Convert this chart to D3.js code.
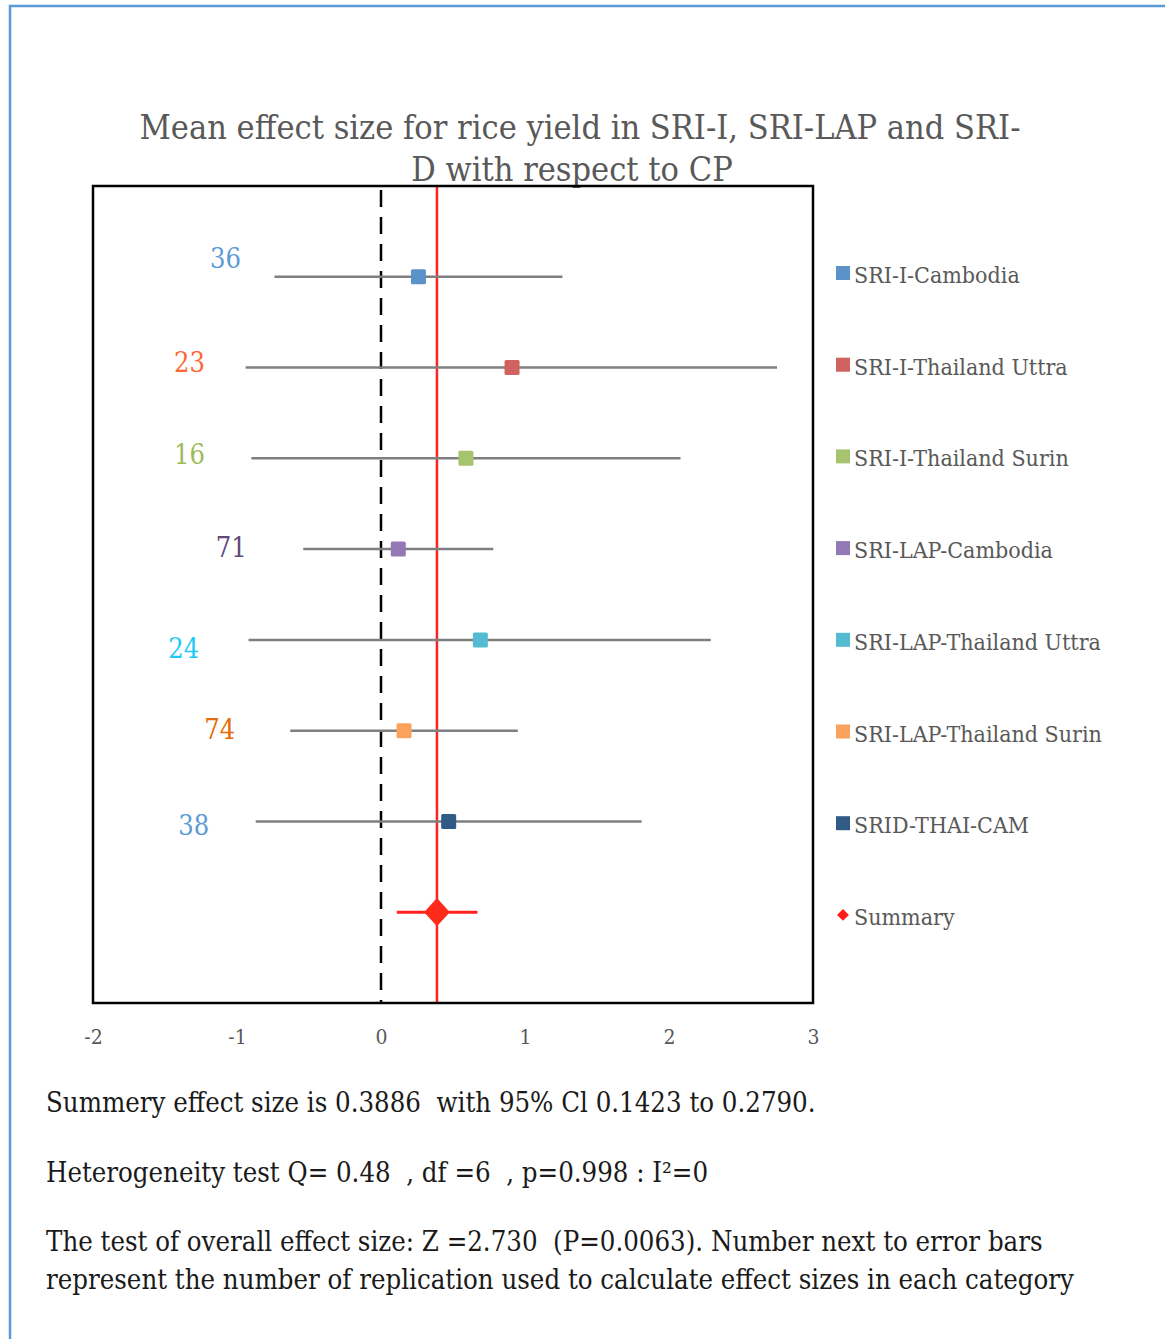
<!DOCTYPE html>
<html>
<head>
<meta charset="utf-8">
<script src="https://cdn.jsdelivr.net/npm/d3@7"></script>
<style>
  html, body { margin:0; padding:0; background:#fff; }
  svg { display:block; }
  text { font-family:"DejaVu Serif", serif; font-stretch:condensed; white-space:pre; }
</style>
</head>
<body>
<div id="chart"></div>
<script>
/* Forest plot: mean effect size for rice yield, SRI-I / SRI-LAP / SRI-D vs CP. */

// ---- data ----
const STUDIES = ["SRI-I-Cambodia","SRI-I-Thailand Uttra","SRI-I-Thailand Surin","SRI-LAP-Cambodia",
                 "SRI-LAP-Thailand Uttra","SRI-LAP-Thailand Surin","SRID-THAI-CAM"];
const EFFECT  = [0.26, 0.91, 0.59, 0.12, 0.69, 0.16, 0.47];
const CI_LOW  = [-0.74, -0.94, -0.90, -0.54, -0.92, -0.63, -0.87];
const CI_HIGH = [1.26, 2.75, 2.08, 0.78, 2.29, 0.95, 1.81];
const REPS    = [36, 23, 16, 71, 24, 74, 38];
const ROW_Y   = [8, 7, 6, 5, 4, 3, 2];
// where the replication counts sit, in data units
const REPS_X  = [-1.08, -1.33, -1.33, -1.04, -1.37, -1.12, -1.30];
const REPS_Y  = [8.2, 7.06, 6.04, 5.02, 3.9, 3.01, 1.95];

const SUMMARY = { est:0.3886, lo:0.11, hi:0.67, row:1 };

const MARKER_COLORS = ["#5b93c8","#d0625f","#a6c46e","#9279b3","#55bbd0","#f9a25c","#2f5b86"];
const REPS_COLORS   = ["#5b9bd5","#ff6633","#9bbb59","#604a7b","#1ec8f5","#e46c0a","#5b9bd5"];

const X_TICKS = [-2, -1, 0, 1, 2, 3];

const TITLE = ["Mean effect size for rice yield in SRI-I, SRI-LAP and SRI-", "D with respect to CP"];
const NOTES = [
  "Summery effect size is 0.3886  with 95% Cl 0.1423 to 0.2790.",
  "Heterogeneity test Q= 0.48  , df =6  , p=0.998 : I\u00b2=0",
  "The test of overall effect size: Z =2.730  (P=0.0063). Number next to error bars",
  "represent the number of replication used to calculate effect sizes in each category"
];

// ---- layout ----
const W = 1165, H = 1339;
const PLOT = { left:93, right:813, top:186, bottom:1003 };

const x = d3.scaleLinear().domain([-2, 3]).range([PLOT.left, PLOT.right]);
const y = d3.scaleLinear().domain([0, 9]).range([PLOT.bottom, PLOT.top]);

const svg = d3.select("#chart").append("svg").attr("width", W).attr("height", H);

// page border (blue, left + top)
svg.append("path").attr("d", `M10,${H} L10,6 L${W},6`)
  .attr("fill","none").attr("stroke","#5b9bd5").attr("stroke-width",2.5);

// title
svg.append("g").selectAll("text").data(TITLE).join("text")
  .attr("x", (d,i) => i ? 572 : 580).attr("y", (d,i) => 139 + i*42)
  .attr("text-anchor","middle").attr("fill","#595959").attr("font-size",34)
  .text(d => d);

// zero line (dashed) and summary line (red)
svg.append("line")
  .attr("x1", x(0)).attr("x2", x(0)).attr("y1", PLOT.top + 4).attr("y2", PLOT.bottom)
  .attr("stroke","#000").attr("stroke-width",2.5).attr("stroke-dasharray","17,10");
svg.append("line")
  .attr("x1", x(SUMMARY.est)).attr("x2", x(SUMMARY.est)).attr("y1", PLOT.top).attr("y2", PLOT.bottom)
  .attr("stroke","#ff2222").attr("stroke-width",2.5);

// study error bars + markers
const rows = svg.append("g").selectAll("g").data(STUDIES).join("g");
rows.append("line")
  .attr("x1", (d,i) => x(CI_LOW[i])).attr("x2", (d,i) => x(CI_HIGH[i]))
  .attr("y1", (d,i) => y(ROW_Y[i])).attr("y2", (d,i) => y(ROW_Y[i]))
  .attr("stroke","#7f7f7f").attr("stroke-width",2.5);
rows.append("rect")
  .attr("x", (d,i) => x(EFFECT[i]) - 7.5).attr("y", (d,i) => y(ROW_Y[i]) - 7.5)
  .attr("width",15).attr("height",15).attr("rx",1.5)
  .attr("fill", (d,i) => MARKER_COLORS[i]);
rows.append("text")
  .attr("x", (d,i) => x(REPS_X[i])).attr("y", (d,i) => y(REPS_Y[i]))
  .attr("text-anchor","middle").attr("dominant-baseline","central")
  .attr("font-size",27).attr("fill", (d,i) => REPS_COLORS[i])
  .text((d,i) => REPS[i]);

// summary
svg.append("line")
  .attr("x1", x(SUMMARY.lo)).attr("x2", x(SUMMARY.hi))
  .attr("y1", y(SUMMARY.row)).attr("y2", y(SUMMARY.row))
  .attr("stroke","#ff2222").attr("stroke-width",3);
svg.append("path")
  .attr("d", d3.symbol(d3.symbolDiamond2, 420)())
  .attr("transform", `translate(${x(SUMMARY.est)},${y(SUMMARY.row)}) scale(1,1.1)`)
  .attr("fill","#ff2a1a");

// plot frame
svg.append("rect")
  .attr("x", PLOT.left).attr("y", PLOT.top)
  .attr("width", PLOT.right - PLOT.left).attr("height", PLOT.bottom - PLOT.top)
  .attr("fill","none").attr("stroke","#000").attr("stroke-width",2.5);

// x axis labels
const ax = svg.append("g").attr("transform", `translate(0,${PLOT.bottom})`)
  .call(d3.axisBottom(x).tickValues(X_TICKS).tickSize(0).tickPadding(0).tickFormat(d => String(d)));
ax.select(".domain").remove();
ax.selectAll("text").attr("y", 41).attr("dy", 0)
  .attr("font-family","DejaVu Serif").attr("font-size",21).attr("fill","#595959");

// legend
const LEG_TOP = 275, LEG_STEP = 91.7;
const leg = svg.append("g").selectAll("g").data(STUDIES.concat(["Summary"])).join("g")
  .attr("transform", (d,i) => `translate(836,${LEG_TOP + i*LEG_STEP})`);
leg.filter((d,i) => i < STUDIES.length).append("rect")
  .attr("x",0).attr("y",-9).attr("width",14).attr("height",14)
  .attr("fill", (d,i) => MARKER_COLORS[i]);
leg.filter(d => d === "Summary").append("path")
  .attr("d", d3.symbol(d3.symbolDiamond2, 90)())
  .attr("transform","translate(7,-2)").attr("fill","#ff1a1a");
leg.append("text").attr("x",18).attr("y",0).attr("dominant-baseline","central")
  .attr("font-size",23).attr("fill","#595959").text(d => d);

// notes below the chart
svg.append("g").selectAll("text").data(NOTES).join("text")
  .attr("x", 46).attr("y", (d,i) => [1112, 1182, 1251, 1289][i])
  .attr("font-size",27.3).attr("fill","#1a1a1a")
  .text(d => d);
</script>
</body>
</html>
